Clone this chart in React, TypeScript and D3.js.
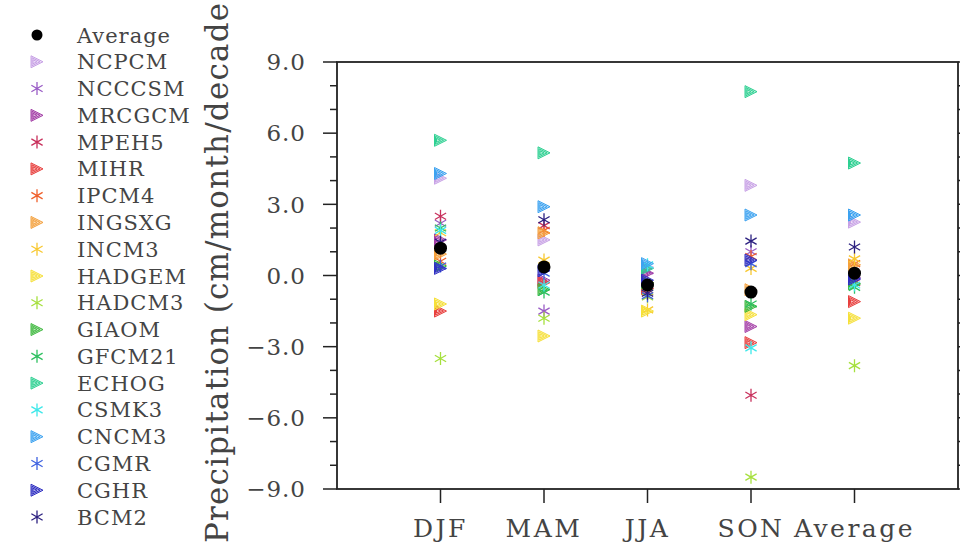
import * as d3 from "d3";

const categories = ["DJF", "MAM", "JJA", "SON", "Average"];

const models = [
  "NCPCM", "NCCCSM", "MRCGCM", "MPEH5", "MIHR", "IPCM4", "INGSXG", "INCM3", "HADGEM",
  "HADCM3", "GIAOM", "GFCM21", "ECHOG", "CSMK3", "CNCM3", "CGMR", "CGHR", "BCM2",
];

const modelColors = [
  "#c8a2e6", "#9a5cc6", "#a33ea6", "#c8305c", "#e8403e", "#f0602c", "#f4a03c", "#f8c830", "#f6e03a",
  "#a6e03e", "#3eb83e", "#2ec060", "#2ed092", "#3ee8ea", "#3ca2f0", "#3e62e0", "#3030c2", "#2c2080",
];

// triangle / asterisk alternating, NCPCM first
const modelShapes = models.map((_, i) => (i % 2 === 0 ? "tri" : "star"));

// values per season, in model order
const djf = [4.1, 2.2, 1.5, 2.5, -1.5, 0.6, 0.9, 1.8, -1.2, -3.5, 0.4, 2.0, 5.7, 1.9, 4.3, 0.4, 0.3, 1.4];
const mam = [1.5, -1.5, -0.2, 2.1, -0.3, 1.9, 1.8, 0.65, -2.55, -1.8, -0.6, -0.7, 5.17, -0.4, 2.9, 0.1, 0.2, 2.35];
const jja = [0.35, 0.2, 0.1, -0.7, -0.55, -0.6, -0.3, -1.45, -1.5, -0.9, -0.3, -0.5, 0.3, 0.45, 0.5, -0.85, -0.2, -0.75];
const son = [3.8, 1.0, -2.15, -5.05, -2.83, 0.8, -0.6, 0.3, -1.65, -8.5, -1.3, -1.2, 7.75, -3.05, 2.55, 0.5, 0.65, 1.45];
const annual = [2.25, -0.2, -0.1, -0.3, -1.1, 0.5, 0.45, 0.7, -1.8, -3.8, -0.35, -0.5, 4.74, -0.4, 2.55, 0.0, -0.15, 1.2];
const seasonValues = [djf, mam, jja, son, annual];

const ensembleMean = [1.15, 0.36, -0.4, -0.7, 0.1];

const yMajorTicks = [-9, -6, -3, 0, 3, 6, 9];

const font = "'DejaVu Serif', serif";
const textColor = "#444";

function triangle(cx: number, cy: number, s: number) {
  const p = d3.path();
  p.moveTo(cx - s / 2, cy - s / 2);
  p.lineTo(cx + s / 2, cy);
  p.lineTo(cx - s / 2, cy + s / 2);
  p.closePath();
  return p.toString();
}

function asterisk(cx: number, cy: number, r: number) {
  const p = d3.path();
  [90, 30, 150].forEach((a) => {
    const t = (a * Math.PI) / 180;
    p.moveTo(cx - r * Math.cos(t), cy - r * Math.sin(t));
    p.lineTo(cx + r * Math.cos(t), cy + r * Math.sin(t));
  });
  return p.toString();
}

function Marker({ shape, color, cx, cy }: { shape: string; color: string; cx: number; cy: number }) {
  if (shape === "tri") {
    return (
      <g stroke={color} strokeWidth={1} fill="none">
        <path d={triangle(cx, cy, 12)} fill={color} fillOpacity={0.35} />
        <path d={triangle(cx - 1, cy, 8)} />
        <path d={triangle(cx - 2, cy, 4)} />
      </g>
    );
  }
  return <path d={asterisk(cx, cy, 6.5)} stroke={color} strokeWidth={1.3} fill="none" />;
}

export default function App() {
  const width = 960;
  const height = 545;
  const left = 337, right = 958, top = 62, bottom = 489;

  const x = d3.scaleLinear().domain([0, categories.length + 1]).range([left, right]);
  const y = d3.scaleLinear().domain([-9, 9]).range([bottom, top]);
  const minorTicks = d3.range(-9, 10, 1).filter((v) => v % 3 !== 0);

  const legendY = d3.scaleLinear().domain([0, models.length]).range([35, 517]);

  return (
    <svg
      width={width}
      height={height}
      style={{ position: "absolute", left: 0, top: 0, background: "#fff" }}
      fontFamily={font}
    >
      {/* legend */}
      <g>
        <circle cx={37} cy={legendY(0)} r={5.5} fill="#000" />
        <text x={77} y={legendY(0)} dy="0.36em" fontSize={21} letterSpacing={1} fill={textColor}>
          Average
        </text>
        {models.map((m, i) => (
          <g key={m}>
            <Marker shape={modelShapes[i]} color={modelColors[i]} cx={37} cy={legendY(i + 1)} />
            <text x={77} y={legendY(i + 1)} dy="0.36em" fontSize={21} letterSpacing={1} fill={textColor}>
              {m}
            </text>
          </g>
        ))}
      </g>

      {/* y axis title */}
      <text
        transform={`translate(228, 543) rotate(-90)`}
        fontSize={31}
        letterSpacing={1.2}
        fill={textColor}
      >
        Precipitation (cm/month/decade)
      </text>

      {/* ticks */}
      <g stroke="#222" strokeWidth={1.5}>
        {yMajorTicks.map((v) => (
          <g key={v}>
            <line x1={left - 14} x2={left} y1={y(v)} y2={y(v)} />
            <line x1={right} x2={right + 14} y1={y(v)} y2={y(v)} />
          </g>
        ))}
        {minorTicks.map((v) => (
          <g key={v}>
            <line x1={left - 7} x2={left} y1={y(v)} y2={y(v)} />
            <line x1={right} x2={right + 7} y1={y(v)} y2={y(v)} />
          </g>
        ))}
        {categories.map((c, i) => (
          <line key={c} x1={x(i + 1)} x2={x(i + 1)} y1={bottom} y2={bottom + 14} />
        ))}
      </g>
      {yMajorTicks.map((v) => (
        <text
          key={v}
          x={306}
          y={y(v)}
          dy="0.36em"
          textAnchor="end"
          fontSize={23}
          letterSpacing={1}
          fill={textColor}
        >
          {(v < 0 ? "\u2212" : "") + d3.format(".1f")(Math.abs(v))}
        </text>
      ))}
      {categories.map((c, i) => (
        <text
          key={c}
          x={x(i + 1)}
          y={537}
          textAnchor="middle"
          fontSize={25}
          letterSpacing={2.5}
          fill={textColor}
        >
          {c}
        </text>
      ))}

      {/* points */}
      {models.map((m, mi) => (
        <g key={m}>
          {seasonValues.map((vals, ci) => (
            <Marker key={ci} shape={modelShapes[mi]} color={modelColors[mi]} cx={x(ci + 1)} cy={y(vals[mi])} />
          ))}
        </g>
      ))}
      {ensembleMean.map((v, ci) => (
        <circle key={ci} cx={x(ci + 1)} cy={y(v)} r={6.5} fill="#000" />
      ))}

      <rect x={left} y={top} width={right - left} height={bottom - top} fill="none" stroke="#222" strokeWidth={1.8} />
    </svg>
  );
}
